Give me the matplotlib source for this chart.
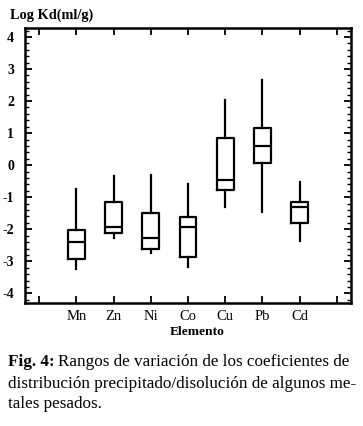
import matplotlib
matplotlib.use("Agg")
import matplotlib.pyplot as plt
from matplotlib.ticker import MultipleLocator, FixedLocator

elements = ["Mn", "Zn", "Ni", "Co", "Cu", "Pb", "Cd"]
whisker_low = [-3.25, -2.28, -2.75, -3.18, -1.30, -1.46, -2.38]
q1 = [-2.94, -2.13, -2.63, -2.88, -0.78, 0.06, -1.81]
median = [-2.41, -1.94, -2.28, -1.94, -0.47, 0.60, -1.31]
q3 = [-2.03, -1.16, -1.50, -1.62, 0.84, 1.16, -1.16]
whisker_high = [-0.75, -0.34, -0.31, -0.60, 2.03, 2.66, -0.53]
yticks = [4, 3, 2, 1, 0, -1, -2, -3, -4]

serif = ["Liberation Serif", "DejaVu Serif"]

W, H = 363, 426
fig = plt.figure(figsize=(W / 100, H / 100), dpi=100)
ax = fig.add_axes([25 / W, 1 - 303 / H, (351 - 25) / W, (303 - 28) / H])

stats = []
for i, name in enumerate(elements):
    stats.append(dict(label=name, whislo=whisker_low[i], q1=q1[i], med=median[i],
                      q3=q3[i], whishi=whisker_high[i], fliers=[]))
positions = list(range(1, len(elements) + 1))
ax.bxp(stats, positions=positions, widths=0.45, showcaps=False, showfliers=False,
       boxprops=dict(color="black", linewidth=1.6),
       medianprops=dict(color="black", linewidth=1.6),
       whiskerprops=dict(color="black", linewidth=1.6))

ax.set_xlim(-0.38, 8.38)
ax.set_ylim(-4.3, 4.28)
ax.xaxis.set_major_locator(FixedLocator(list(range(0, 9))))
ax.set_xticklabels([""] + elements + [""], fontfamily=serif, fontsize=10.5)
ax.yaxis.set_major_locator(FixedLocator(yticks))
ax.set_yticklabels([str(t) for t in yticks], fontfamily=serif, fontsize=10, fontweight="bold")
ax.yaxis.set_minor_locator(MultipleLocator(0.2))
ax.tick_params(axis="both", which="both", direction="in", top=True, right=True, color="black")
ax.tick_params(axis="y", which="major", length=5, width=1.3, pad=8)
ax.tick_params(axis="y", which="minor", length=3, width=1.0)
ax.tick_params(axis="x", which="major", length=5, width=1.3, pad=5)
for s in ax.spines.values():
    s.set_linewidth(1.8)

fig.text(10 / W, 1 - 15 / H, "Log Kd(ml/g)", fontfamily=serif, fontweight="bold",
         fontsize=10.3, ha="left", va="center")
fig.text(197 / W, 1 - 332 / H, "Elemento", fontfamily=serif, fontweight="bold",
         fontsize=9.7, ha="center", va="center")

cap_fs = 12.3
fig.text(8 / W, 1 - 362 / H, "Fig. 4:", fontfamily=serif, fontweight="bold",
         fontsize=cap_fs, ha="left", va="center")
fig.text(58 / W, 1 - 362 / H, "Rangos de variación de los coeficientes de",
         fontfamily=serif, fontsize=cap_fs, ha="left", va="center")
fig.text(8 / W, 1 - 384 / H, "distribución precipitado/disolución de algunos me-",
         fontfamily=serif, fontsize=cap_fs, ha="left", va="center")
fig.text(8 / W, 1 - 404 / H, "tales pesados.",
         fontfamily=serif, fontsize=cap_fs, ha="left", va="center")

fig.savefig("out.png", dpi=100)
